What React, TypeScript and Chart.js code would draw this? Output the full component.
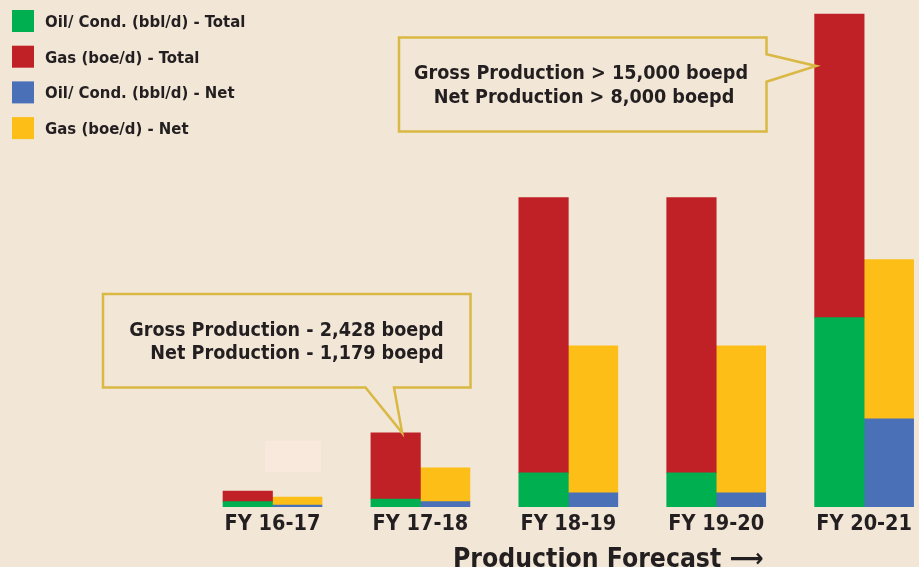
import React, { useEffect, useRef } from "react";
import { Chart, registerables } from "chart.js";

Chart.register(...registerables);

const categories = ["FY 16-17", "FY 17-18", "FY 18-19", "FY 19-20", "FY 20-21"];
const oilTotal = [175, 260, 1115, 1115, 6200];
const gasTotal = [350, 2168, 9020, 9020, 9940];
const oilNet = [65, 175, 460, 460, 2885];
const gasNet = [260, 1105, 4820, 4820, 5215];
const seriesLabels = [
  "Oil/ Cond. (bbl/d) - Total",
  "Gas (boe/d) - Total",
  "Oil/ Cond. (bbl/d) - Net",
  "Gas (boe/d) - Net",
];
const calloutGross = ["Gross Production - 2,428 boepd", "Net Production - 1,179 boepd"];
const calloutForecast = ["Gross Production > 15,000 boepd", "Net Production > 8,000 boepd"];
const axisTitle = "Production Forecast \u27F6";

const BG = "#f2e6d7";
const GREEN = "#00b050";
const RED = "#c02126";
const BLUE = "#4a70b8";
const YELLOW = "#fcbe17";
const GOLD = "#d9b843";
const TEXT = "#231f20";
const FONT = '"DejaVu Sans Condensed", "DejaVu Sans", sans-serif';

const X_MIN = -1.8425;
const X_MAX = 4.371;
const Y_MAX = 16600;

const decorPlugin = {
  id: "decor",
  beforeDatasetsDraw(chart: any) {
    const ctx = chart.ctx;
    ctx.save();
    ctx.fillStyle = "#f8e9dc";
    ctx.fillRect(265, 441, 56, 31);
    ctx.restore();
  },
  afterDraw(chart: any) {
    const ctx = chart.ctx;
    ctx.save();
    // legend
    ctx.font = `bold 16.6px ${FONT}`;
    ctx.textBaseline = "alphabetic";
    ctx.textAlign = "left";
    chart.data.datasets.forEach((ds: any, i: number) => {
      const y = 10 + i * 35.7;
      ctx.fillStyle = ds.backgroundColor;
      ctx.fillRect(12, y, 22, 22);
      ctx.fillStyle = TEXT;
      ctx.fillText(ds.label, 45, y + 17);
    });

    // callouts
    ctx.strokeStyle = GOLD;
    ctx.lineWidth = 2.5;
    ctx.lineJoin = "miter";
    const e1 = chart.getDatasetMeta(1).data[1];
    ctx.beginPath();
    ctx.moveTo(103, 294);
    ctx.lineTo(470.5, 294);
    ctx.lineTo(470.5, 387.5);
    ctx.lineTo(394, 387.5);
    ctx.lineTo(e1.x + 6.5, e1.y);
    ctx.lineTo(365.5, 387.5);
    ctx.lineTo(103, 387.5);
    ctx.closePath();
    ctx.stroke();

    const e2 = chart.getDatasetMeta(1).data[4];
    ctx.beginPath();
    ctx.moveTo(399, 37.5);
    ctx.lineTo(766.5, 37.5);
    ctx.lineTo(766.5, 54.3);
    ctx.lineTo(e2.x - e2.width / 2 + 1.5, 66);
    ctx.lineTo(766.5, 81.7);
    ctx.lineTo(766.5, 131.5);
    ctx.lineTo(399, 131.5);
    ctx.closePath();
    ctx.stroke();

    ctx.fillStyle = TEXT;
    ctx.font = `bold 19.6px ${FONT}`;
    ctx.textAlign = "right";
    ctx.fillText(calloutGross[0], 443.5, 335.5);
    ctx.fillText(calloutGross[1], 443.5, 359);
    ctx.textAlign = "center";
    ctx.fillText(calloutForecast[0], 581, 79);
    ctx.fillText(calloutForecast[1], 584, 102.5);

    // bottom title
    ctx.font = `bold 26.3px ${FONT}`;
    ctx.textAlign = "left";
    ctx.fillText(axisTitle, 453, 567);
    ctx.restore();
  },
};

export default function App() {
  const ref = useRef<HTMLCanvasElement>(null);
  useEffect(() => {
    const toPoints = (arr: number[]) => arr.map((v, i) => ({ x: i, y: v }));
    const chart = new Chart(ref.current as HTMLCanvasElement, {
      type: "bar",
      data: {
        datasets: [
          { label: seriesLabels[0], data: toPoints(oilTotal), backgroundColor: GREEN, stack: "total" },
          { label: seriesLabels[1], data: toPoints(gasTotal), backgroundColor: RED, stack: "total" },
          { label: seriesLabels[2], data: toPoints(oilNet), backgroundColor: BLUE, stack: "net" },
          { label: seriesLabels[3], data: toPoints(gasNet), backgroundColor: YELLOW, stack: "net" },
        ] as any,
      },
      options: {
        animation: false,
        responsive: true,
        maintainAspectRatio: false,
        layout: { padding: 0 },
        datasets: { bar: { barThickness: 49.5, borderWidth: 0 } } as any,
        plugins: { legend: { display: false }, tooltip: { enabled: false } },
        scales: {
          x: {
            type: "linear",
            offset: false,
            min: X_MIN,
            max: X_MAX,
            stacked: true,
            grid: { display: false, drawTicks: false, offset: false },
            border: { display: false },
            afterBuildTicks: (axis: any) => {
              axis.ticks = categories.map((_, i) => ({ value: i }));
            },
            afterFit: (axis: any) => {
              axis.height = 60;
              axis.paddingLeft = 0;
              axis.paddingRight = 0;
            },
            ticks: {
              autoSkip: false,
              maxRotation: 0,
              padding: 5,
              color: TEXT,
              font: { family: FONT, size: 21.5, weight: "bold" },
              callback: (value: any) => categories[Math.round(Number(value))] ?? "",
            },
          } as any,
          y: { display: false, stacked: true, min: 0, max: Y_MAX },
        },
      },
      plugins: [decorPlugin],
    });
    return () => chart.destroy();
  }, []);
  return (
    <div style={{ position: "fixed", left: 0, top: 0, width: 919, height: 567, background: BG }}>
      <canvas ref={ref} />
    </div>
  );
}
